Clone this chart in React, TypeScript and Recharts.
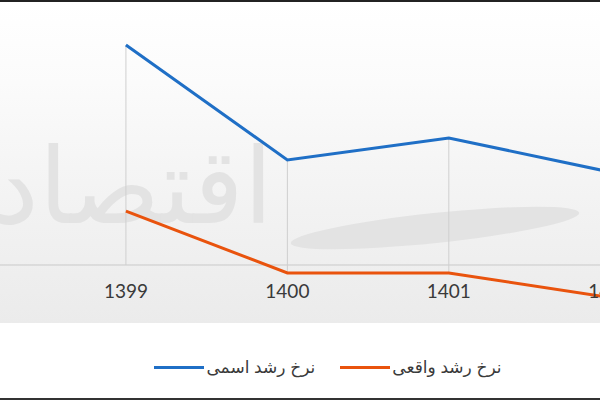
import React from 'react';
import { LineChart, Line, XAxis, YAxis, ReferenceLine, Legend } from 'recharts';

const years = [1399, 1400, 1401, 1402];
const nominalGrowth = [40, 19.1, 23.1, 16.9];
const realGrowth = [9.8, -1.45, -1.45, -5.9];
const seriesNames = ['نرخ رشد اسمی', 'نرخ رشد واقعی'];
const seriesColors = ['#1f6fc6', '#e9530d'];

const data = years.map((year, i) => ({
  year,
  nominal: nominalGrowth[i],
  real: realGrowth[i],
}));

const YearTick = (props: any) => {
  const { x, y, payload } = props;
  return (
    <text
      x={x}
      y={y}
      dy={-30}
      textAnchor="middle"
      fill="#3a3a3a"
      fontSize={19}
      fontFamily='Lato, "Open Sans", sans-serif'
    >
      {payload.value}
    </text>
  );
};

const renderLegend = (props: any) => {
  const { payload = [] } = props;
  return (
    <div
      style={{
        display: 'flex',
        justifyContent: 'center',
        gap: 25,
        fontFamily: '"Liberation Sans", "DejaVu Sans", sans-serif',
        fontSize: 17,
        color: '#3a3a3a',
      }}
    >
      {payload.map((p: any) => (
        <div key={p.value} style={{ display: 'flex', alignItems: 'center' }}>
          <span style={{ width: 50, height: 3, background: p.color, display: 'inline-block' }} />
          <span style={{ marginLeft: 2 }}>{p.value}</span>
        </div>
      ))}
    </div>
  );
};

export default function App() {
  return (
    <div
      style={{
        position: 'relative',
        width: 600,
        height: 400,
        overflow: 'hidden',
        background: '#ffffff',
      }}
    >
      <style>{'body{margin:0}'}</style>
      <div
        style={{
          position: 'absolute',
          left: 0,
          top: 2,
          width: 600,
          height: 321,
          background: 'linear-gradient(to bottom, #ffffff 0%, #fbfbfb 25%, #f2f2f2 65%, #ebebeb 100%)',
        }}
      />
      {/* watermark */}
      <div
        style={{
          position: 'absolute',
          left: -8,
          top: 124,
          fontFamily: '"DejaVu Sans", sans-serif',
          fontSize: 105,
          color: '#e3e3e3',
          direction: 'rtl',
          whiteSpace: 'nowrap',
          lineHeight: 1.2,
        }}
      >
        اقتصاد
      </div>
      <div
        style={{
          position: 'absolute',
          left: 290,
          top: 213,
          width: 290,
          height: 30,
          borderRadius: '50%',
          background: '#e3e3e3',
          transform: 'rotate(-6deg)',
        }}
      />
      <div style={{ position: 'absolute', left: 0, top: 0, width: 600, height: 2, background: '#222' }} />
      <div style={{ position: 'absolute', left: 0, top: 398, width: 600, height: 2, background: '#333' }} />
      <div style={{ position: 'absolute', left: 0, top: 0 }}>
        <LineChart
          width={691}
          height={400}
          data={data}
          margin={{ top: 17.5, right: 0, bottom: 50, left: 0 }}
        >
          <XAxis
            dataKey="year"
            type="number"
            domain={[1398.22, 1402.5]}
            ticks={years}
            interval={0}
            height={30}
            axisLine={false}
            tickLine={false}
            tick={<YearTick />}
          />
          <YAxis hide domain={[-10, 45]} />
          <ReferenceLine y={0} stroke="#c9c9c9" strokeWidth={1} />
          {years.map((yr, i) => (
            <ReferenceLine
              key={yr}
              segment={[
                { x: yr, y: Math.min(0, nominalGrowth[i], realGrowth[i]) },
                { x: yr, y: Math.max(0, nominalGrowth[i], realGrowth[i]) },
              ]}
              stroke="#cfcfcf"
              strokeWidth={1}
            />
          ))}
          <Line
            type="linear"
            dataKey="nominal"
            name={seriesNames[0]}
            stroke={seriesColors[0]}
            strokeWidth={3}
            dot={false}
            activeDot={false}
            isAnimationActive={false}
          />
          <Line
            type="linear"
            dataKey="real"
            name={seriesNames[1]}
            stroke={seriesColors[1]}
            strokeWidth={3}
            dot={false}
            activeDot={false}
            isAnimationActive={false}
          />
          <Legend
            verticalAlign="middle"
            align="center"
            layout="horizontal"
            content={renderLegend}
            wrapperStyle={{ top: 357, left: 28, width: 600 }}
          />
        </LineChart>
      </div>
    </div>
  );
}
